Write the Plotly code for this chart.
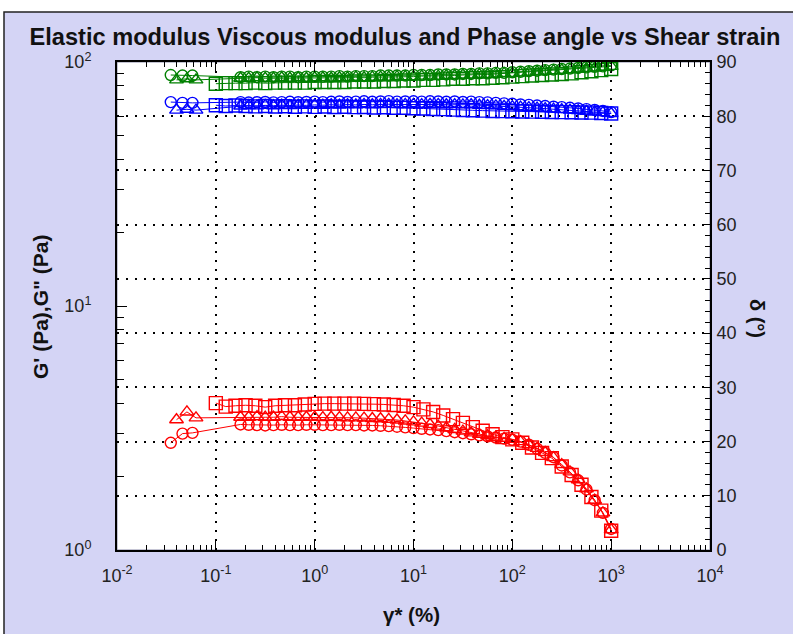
import plotly.graph_objects as go

# ---------------- data ----------------
# strain (%) for circle / triangle samples (dense part shared) and square sample
x_circle = [0.035, 0.046, 0.058,
            0.178, 0.215, 0.261, 0.316, 0.383, 0.464, 0.562, 0.681, 0.825,
            1.0, 1.21, 1.47, 1.78, 2.15, 2.61, 3.16, 3.83, 4.64, 5.62, 6.81,
            8.25, 10, 12.1, 14.7, 17.8, 21.5, 26.1, 31.6, 38.3, 46.4, 56.2, 68.1, 82.5,
            100, 121, 147, 178, 215, 261, 316, 383, 464, 562, 681, 825, 1000]
x_triangle = [0.040, 0.051, 0.063,
              0.178, 0.215, 0.261, 0.316, 0.383, 0.464, 0.562, 0.681, 0.825,
              1.0, 1.21, 1.47, 1.78, 2.15, 2.61, 3.16, 3.83, 4.64, 5.62, 6.81,
              8.25, 10, 12.1, 14.7, 17.8, 21.5, 26.1, 31.6, 38.3, 46.4, 56.2, 68.1, 82.5,
              100, 121, 147, 178, 215, 261, 316, 383, 464, 562, 681, 825, 1000]
x_square = [0.1, 0.126, 0.158, 0.2, 0.251, 0.316, 0.398, 0.501, 0.631, 0.794,
            1.0, 1.26, 1.58, 2.0, 2.51, 3.16, 3.98, 5.01, 6.31, 7.94,
            10, 12.6, 15.8, 20, 25.1, 31.6, 39.8, 50.1, 63.1, 79.4,
            100, 126, 158, 200, 251, 316, 398, 501, 631, 794, 1000]

# G' (Pa)
gp_circle = [2.75, 3.0, 3.02,
             3.27, 3.26, 3.25, 3.24, 3.25, 3.26, 3.25, 3.25, 3.26,
             3.26, 3.25, 3.25, 3.26, 3.25, 3.25, 3.24, 3.24, 3.23, 3.22, 3.20,
             3.18, 3.16, 3.14, 3.12, 3.10, 3.07, 3.04, 3.01, 2.98, 2.95, 2.92, 2.89, 2.86,
             2.83, 2.78, 2.70, 2.60, 2.50, 2.40, 2.22, 2.08, 1.93, 1.77, 1.60, 1.42, 1.22]
gp_triangle = [3.42, 3.68, 3.48,
               3.50, 3.50, 3.52, 3.50, 3.50, 3.52, 3.50, 3.50, 3.50,
               3.50, 3.49, 3.50, 3.49, 3.48, 3.48, 3.47, 3.46, 3.45, 3.43, 3.41,
               3.38, 3.35, 3.31, 3.27, 3.22, 3.17, 3.12, 3.07, 3.02, 2.98, 2.94, 2.90, 2.87,
               2.84, 2.78, 2.70, 2.61, 2.51, 2.39, 2.24, 2.09, 1.94, 1.78, 1.60, 1.42, 1.21]
gp_square = [4.00, 3.87, 3.90, 3.92, 3.90, 3.85, 3.90, 3.92, 3.92, 3.95,
             3.97, 3.98, 3.98, 3.98, 3.98, 3.97, 3.96, 3.95, 3.93, 3.90,
             3.85, 3.77, 3.68, 3.56, 3.44, 3.32, 3.19, 3.08, 2.98, 2.90,
             2.84, 2.75, 2.63, 2.50, 2.38, 2.20, 2.03, 1.85, 1.65, 1.45, 1.20]

# G'' (Pa)
gpp_circle = [68.5, 68.0, 68.0,
              68.5, 68.2, 68.4, 68.6, 68.3, 68.5, 68.7, 68.4, 68.6,
              68.8, 68.5, 68.7, 68.9, 68.6, 68.8, 69.0, 68.7, 68.9, 69.1, 68.8,
              68.9, 69.0, 68.8, 69.0, 68.9, 68.7, 68.9, 68.6, 68.8, 68.5, 68.3, 68.0, 67.7,
              67.4, 67.0, 66.7, 66.3, 66.0, 65.6, 65.3, 64.9, 64.5, 64.1, 63.6, 63.0, 62.3]
gpp_triangle = [63.5, 64.0, 63.5,
                66.0, 66.3, 66.1, 66.4, 66.2, 66.5, 66.3, 66.6, 66.4,
                66.7, 66.5, 66.8, 66.6, 66.9, 66.7, 67.0, 66.8, 67.0, 67.1, 66.9,
                67.0, 67.1, 66.9, 67.1, 67.0, 66.8, 66.9, 66.7, 66.8, 66.5, 66.3, 66.1, 65.8,
                65.6, 65.3, 65.0, 64.7, 64.4, 64.1, 63.8, 63.5, 63.2, 62.8, 62.4, 62.0, 61.5]
gpp_square = [66.5, 66.0, 66.3, 66.0, 65.8, 66.0, 65.7, 65.9, 65.6, 65.8,
              65.5, 65.7, 65.4, 65.6, 65.3, 65.4, 65.1, 65.2, 64.9, 64.9,
              64.6, 64.5, 64.2, 64.1, 63.8, 63.6, 63.4, 63.2, 63.0, 62.9,
              62.8, 62.7, 62.6, 62.5, 62.4, 62.3, 62.2, 62.1, 62.0, 61.8, 61.5]

# phase angle delta (deg)
d_circle = [87.6, 87.5, 87.5,
            87.2, 87.3, 87.2, 87.3, 87.2, 87.3, 87.3, 87.2, 87.3,
            87.3, 87.3, 87.3, 87.4, 87.3, 87.4, 87.4, 87.4, 87.5, 87.5, 87.5,
            87.5, 87.6, 87.6, 87.6, 87.7, 87.7, 87.7, 87.8, 87.8, 87.9, 87.9, 88.0, 88.0,
            88.1, 88.2, 88.3, 88.4, 88.5, 88.6, 88.7, 88.8, 88.9, 89.0, 89.1, 89.2, 89.4]
d_triangle = [86.7, 86.9, 86.7,
              87.0, 87.0, 87.1, 87.0, 87.0, 87.1, 87.0, 87.1, 87.0,
              87.1, 87.1, 87.0, 87.1, 87.1, 87.2, 87.1, 87.2, 87.2, 87.2, 87.3,
              87.3, 87.3, 87.4, 87.4, 87.4, 87.5, 87.5, 87.6, 87.6, 87.7, 87.7, 87.8, 87.9,
              87.9, 88.0, 88.1, 88.2, 88.3, 88.4, 88.5, 88.6, 88.7, 88.8, 88.9, 89.0, 89.2]
d_square = [86.0, 86.1, 86.1, 86.1, 86.2, 86.1, 86.2, 86.2, 86.2, 86.2,
            86.3, 86.3, 86.3, 86.3, 86.4, 86.4, 86.4, 86.5, 86.5, 86.6,
            86.6, 86.7, 86.7, 86.8, 86.9, 86.9, 87.0, 87.0, 87.1, 87.2,
            87.3, 87.4, 87.5, 87.6, 87.7, 87.8, 87.9, 88.1, 88.3, 88.5, 88.7]

x_tickvals = [0.01, 0.1, 1, 10, 100, 1000, 10000]
x_ticktext = ["10<sup>-2</sup>", "10<sup>-1</sup>", "10<sup>0</sup>", "10<sup>1</sup>",
              "10<sup>2</sup>", "10<sup>3</sup>", "10<sup>4</sup>"]
y_tickvals = [1, 10, 100]
y_ticktext = ["10<sup>0</sup>", "10<sup>1</sup>", "10<sup>2</sup>"]

# ---------------- style ----------------
RED, BLUE, GREEN = "#FF0000", "#0000FF", "#008000"
LAV = "#D4D4F5"
FONT = "Liberation Sans, Arial, sans-serif"
W, H = 793, 634
ML, MR, MT, MB = 117, 83, 62, 84

samples = [
    (x_circle, gp_circle, gpp_circle, d_circle, "circle-open", 11),
    (x_triangle, gp_triangle, gpp_triangle, d_triangle, "triangle-up-open", 12),
    (x_square, gp_square, gpp_square, d_square, "square-open", 13),
]

fig = go.Figure()
for xs, gp, gpp, dd, sym, sz in samples:
    for ys, col, ax in ((gp, RED, "y"), (gpp, BLUE, "y"), (dd, GREEN, "y2")):
        fig.add_trace(go.Scatter(
            x=xs, y=ys, mode="lines+markers", yaxis=ax, xaxis="x",
            line=dict(color=col, width=1),
            marker=dict(symbol=sym, size=sz, color=col, line=dict(color=col, width=1.4)),
            showlegend=False, hoverinfo="skip"))

def px2px(p):  # pixel x -> paper
    return (p - ML) / (W - ML - MR)

def py2py(p):  # pixel y -> paper
    return (H - MB - p) / (H - MT - MB)

axis_font = dict(family=FONT, size=18, color="#222222")
dots = "2px,7px"

fig.update_layout(
    width=W, height=H,
    margin=dict(l=ML, r=MR, t=MT, b=MB, pad=0),
    paper_bgcolor="white", plot_bgcolor="white",
    title=dict(text="<b>Elastic modulus Viscous modulus and Phase angle vs Shear strain</b>",
               x=405 / W, xanchor="center", y=1 - 37 / H, yanchor="middle",
               font=dict(family=FONT, size=23.6, color="#111111")),
    xaxis=dict(type="log", range=[-2, 4], tickvals=x_tickvals, ticktext=x_ticktext,
               showline=True, linecolor="black", linewidth=2,
               ticks="inside", ticklen=10, tickcolor="black", tickwidth=1.3,
               mirror="ticks",
               minor=dict(ticks="inside", ticklen=5, dtick="D1", tickcolor="black", showgrid=False),
               showgrid=True, gridcolor="black", gridwidth=1.5, griddash=dots,
               tickfont=axis_font, ticklabelstandoff=8, zeroline=False),
    xaxis3=dict(type="log", range=[-2, 4], overlaying="x", anchor="y", side="bottom",
                tickvals=x_tickvals, showticklabels=False, showline=False, showgrid=False,
                ticks="outside", ticklen=6, tickcolor="black", tickwidth=1.3,
                minor=dict(ticks="outside", ticklen=5, dtick="D1", tickcolor="black", showgrid=False)),
    yaxis=dict(type="log", range=[0, 2], tickvals=y_tickvals, ticktext=y_ticktext,
               showline=True, linecolor="black", linewidth=2,
               ticks="inside", ticklen=10, tickcolor="black", tickwidth=1.3,
               minor=dict(ticks="inside", ticklen=7, dtick="D1", tickcolor="black", showgrid=False),
               showgrid=False, tickfont=axis_font, ticklabelstandoff=20, zeroline=False),
    yaxis3=dict(type="log", range=[0, 2], overlaying="y", anchor="x", side="left",
                tickvals=y_tickvals, showticklabels=False, showline=False, showgrid=False,
                ticks="outside", ticklen=6, tickcolor="black", tickwidth=1.3,
                minor=dict(ticks="outside", ticklen=5, dtick="D1", tickcolor="black", showgrid=False)),
    yaxis2=dict(range=[0, 90], dtick=10, overlaying="y", anchor="x", side="right",
                showline=True, linecolor="black", linewidth=2,
                ticks="inside", ticklen=8, tickcolor="black", tickwidth=1.3,
                minor=dict(ticks="inside", ticklen=5, dtick=2, tickcolor="black", showgrid=False),
                showgrid=True, gridcolor="black", gridwidth=1.5, griddash=dots,
                tickfont=axis_font, ticklabelstandoff=1, zeroline=False),
    yaxis4=dict(range=[0, 90], dtick=10, overlaying="y", anchor="x", side="right",
                showticklabels=False, showline=False, showgrid=False,
                ticks="outside", ticklen=5, tickcolor="black", tickwidth=1.3,
                minor=dict(ticks="outside", ticklen=3, dtick=2, tickcolor="black", showgrid=False)),
    shapes=[
        dict(type="rect", xref="paper", yref="paper", layer="below",
             x0=px2px(4), x1=px2px(900), y0=py2py(700), y1=py2py(12),
             fillcolor=LAV, line=dict(color="#222222", width=1.5)),
        dict(type="rect", xref="paper", yref="paper", layer="below",
             x0=0, x1=1, y0=0, y1=1, fillcolor="white", line=dict(color="#8a8aa8", width=1)),
    ],
    annotations=[
        dict(text="<b>G' (Pa),G\" (Pa)</b>", xref="paper", yref="paper",
             x=px2px(40), y=py2py(307), textangle=-90, showarrow=False,
             xanchor="center", yanchor="middle",
             font=dict(family=FONT, size=21, color="#111111")),
        dict(text="<b>γ* (%)</b>", xref="paper", yref="paper",
             x=px2px(411), y=py2py(614), showarrow=False,
             xanchor="center", yanchor="middle",
             font=dict(family=FONT, size=20.5, color="#111111")),
        dict(text="<b>δ (°)</b>", xref="paper", yref="paper",
             x=px2px(757), y=py2py(318), textangle=90, showarrow=False,
             xanchor="center", yanchor="middle",
             font=dict(family=FONT, size=20, color="#111111")),
    ],
)

fig.write_html("out.html")
